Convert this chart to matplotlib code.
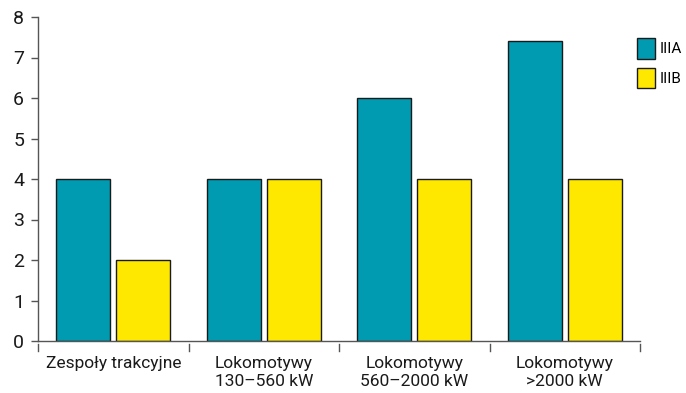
import numpy as np
import matplotlib.pyplot as plt
from matplotlib.patches import Patch
from matplotlib import font_manager

categories = ["Zespoły trakcyjne", "Lokomotywy\n130–560 kW", "Lokomotywy\n560–2000 kW", "Lokomotywy\n>2000 kW"]
series_names = ["IIIA", "IIIB"]
iiia = [4, 4, 6, 7.4]
iiib = [2, 4, 4, 4]
y_ticks = [0, 1, 2, 3, 4, 5, 6, 7, 8]

colors = ["#009AB1", "#FFE800"]

names = {f.name for f in font_manager.fontManager.ttflist}
family = ["Liberation Sans Narrow"] if "Liberation Sans Narrow" in names else ["Roboto", "DejaVu Sans"]
plt.rcParams["font.family"] = family + ["DejaVu Sans"]

fig = plt.figure(figsize=(6.86, 3.93), dpi=100)
ax = fig.add_axes([38 / 686, 52 / 393, 602 / 686, 324 / 393])

x = np.arange(len(categories))
w = 0.36
ax.bar(x - 0.2, iiia, w, color=colors[0], edgecolor="#1a1a1a", linewidth=1.0)
ax.bar(x + 0.2, iiib, w, color=colors[1], edgecolor="#1a1a1a", linewidth=1.0)

ax.set_xlim(-0.5, len(categories) - 0.5)
ax.set_ylim(0, 8)
ax.set_yticks(y_ticks)
ax.tick_params(axis="y", direction="out", length=5, width=1, color="#555555",
               labelsize=14, pad=5, labelcolor="#1a1a1a")
ax.set_xticks(x)
ax.set_xticklabels(categories, fontsize=12.5, color="#1a1a1a", linespacing=1.2)
ax.tick_params(axis="x", length=0, pad=11)

for s in ["top", "right"]:
    ax.spines[s].set_visible(False)
ax.spines["left"].set_color("#555555")
ax.spines["bottom"].set_color("#555555")
ax.spines["left"].set_linewidth(1)
ax.spines["bottom"].set_linewidth(1)

# separator ticks between categories, set a little below the axis line
trans = ax.get_xaxis_transform()
for b in np.arange(-0.5, len(categories), 1.0):
    ax.plot([b, b], [-0.008, -0.03], transform=trans, color="#555555", lw=1, clip_on=False)

handles = [Patch(facecolor=c, edgecolor="#1a1a1a", linewidth=1) for c in colors]
fig.legend(handles, series_names, loc="upper left", bbox_to_anchor=(637 / 686, 1 - 38 / 393),
           frameon=False, handlelength=1.15, handleheight=1.7, handletextpad=0.35,
           labelspacing=0.6, fontsize=11, borderpad=0, borderaxespad=0)

fig.savefig("out.png", dpi=100)
